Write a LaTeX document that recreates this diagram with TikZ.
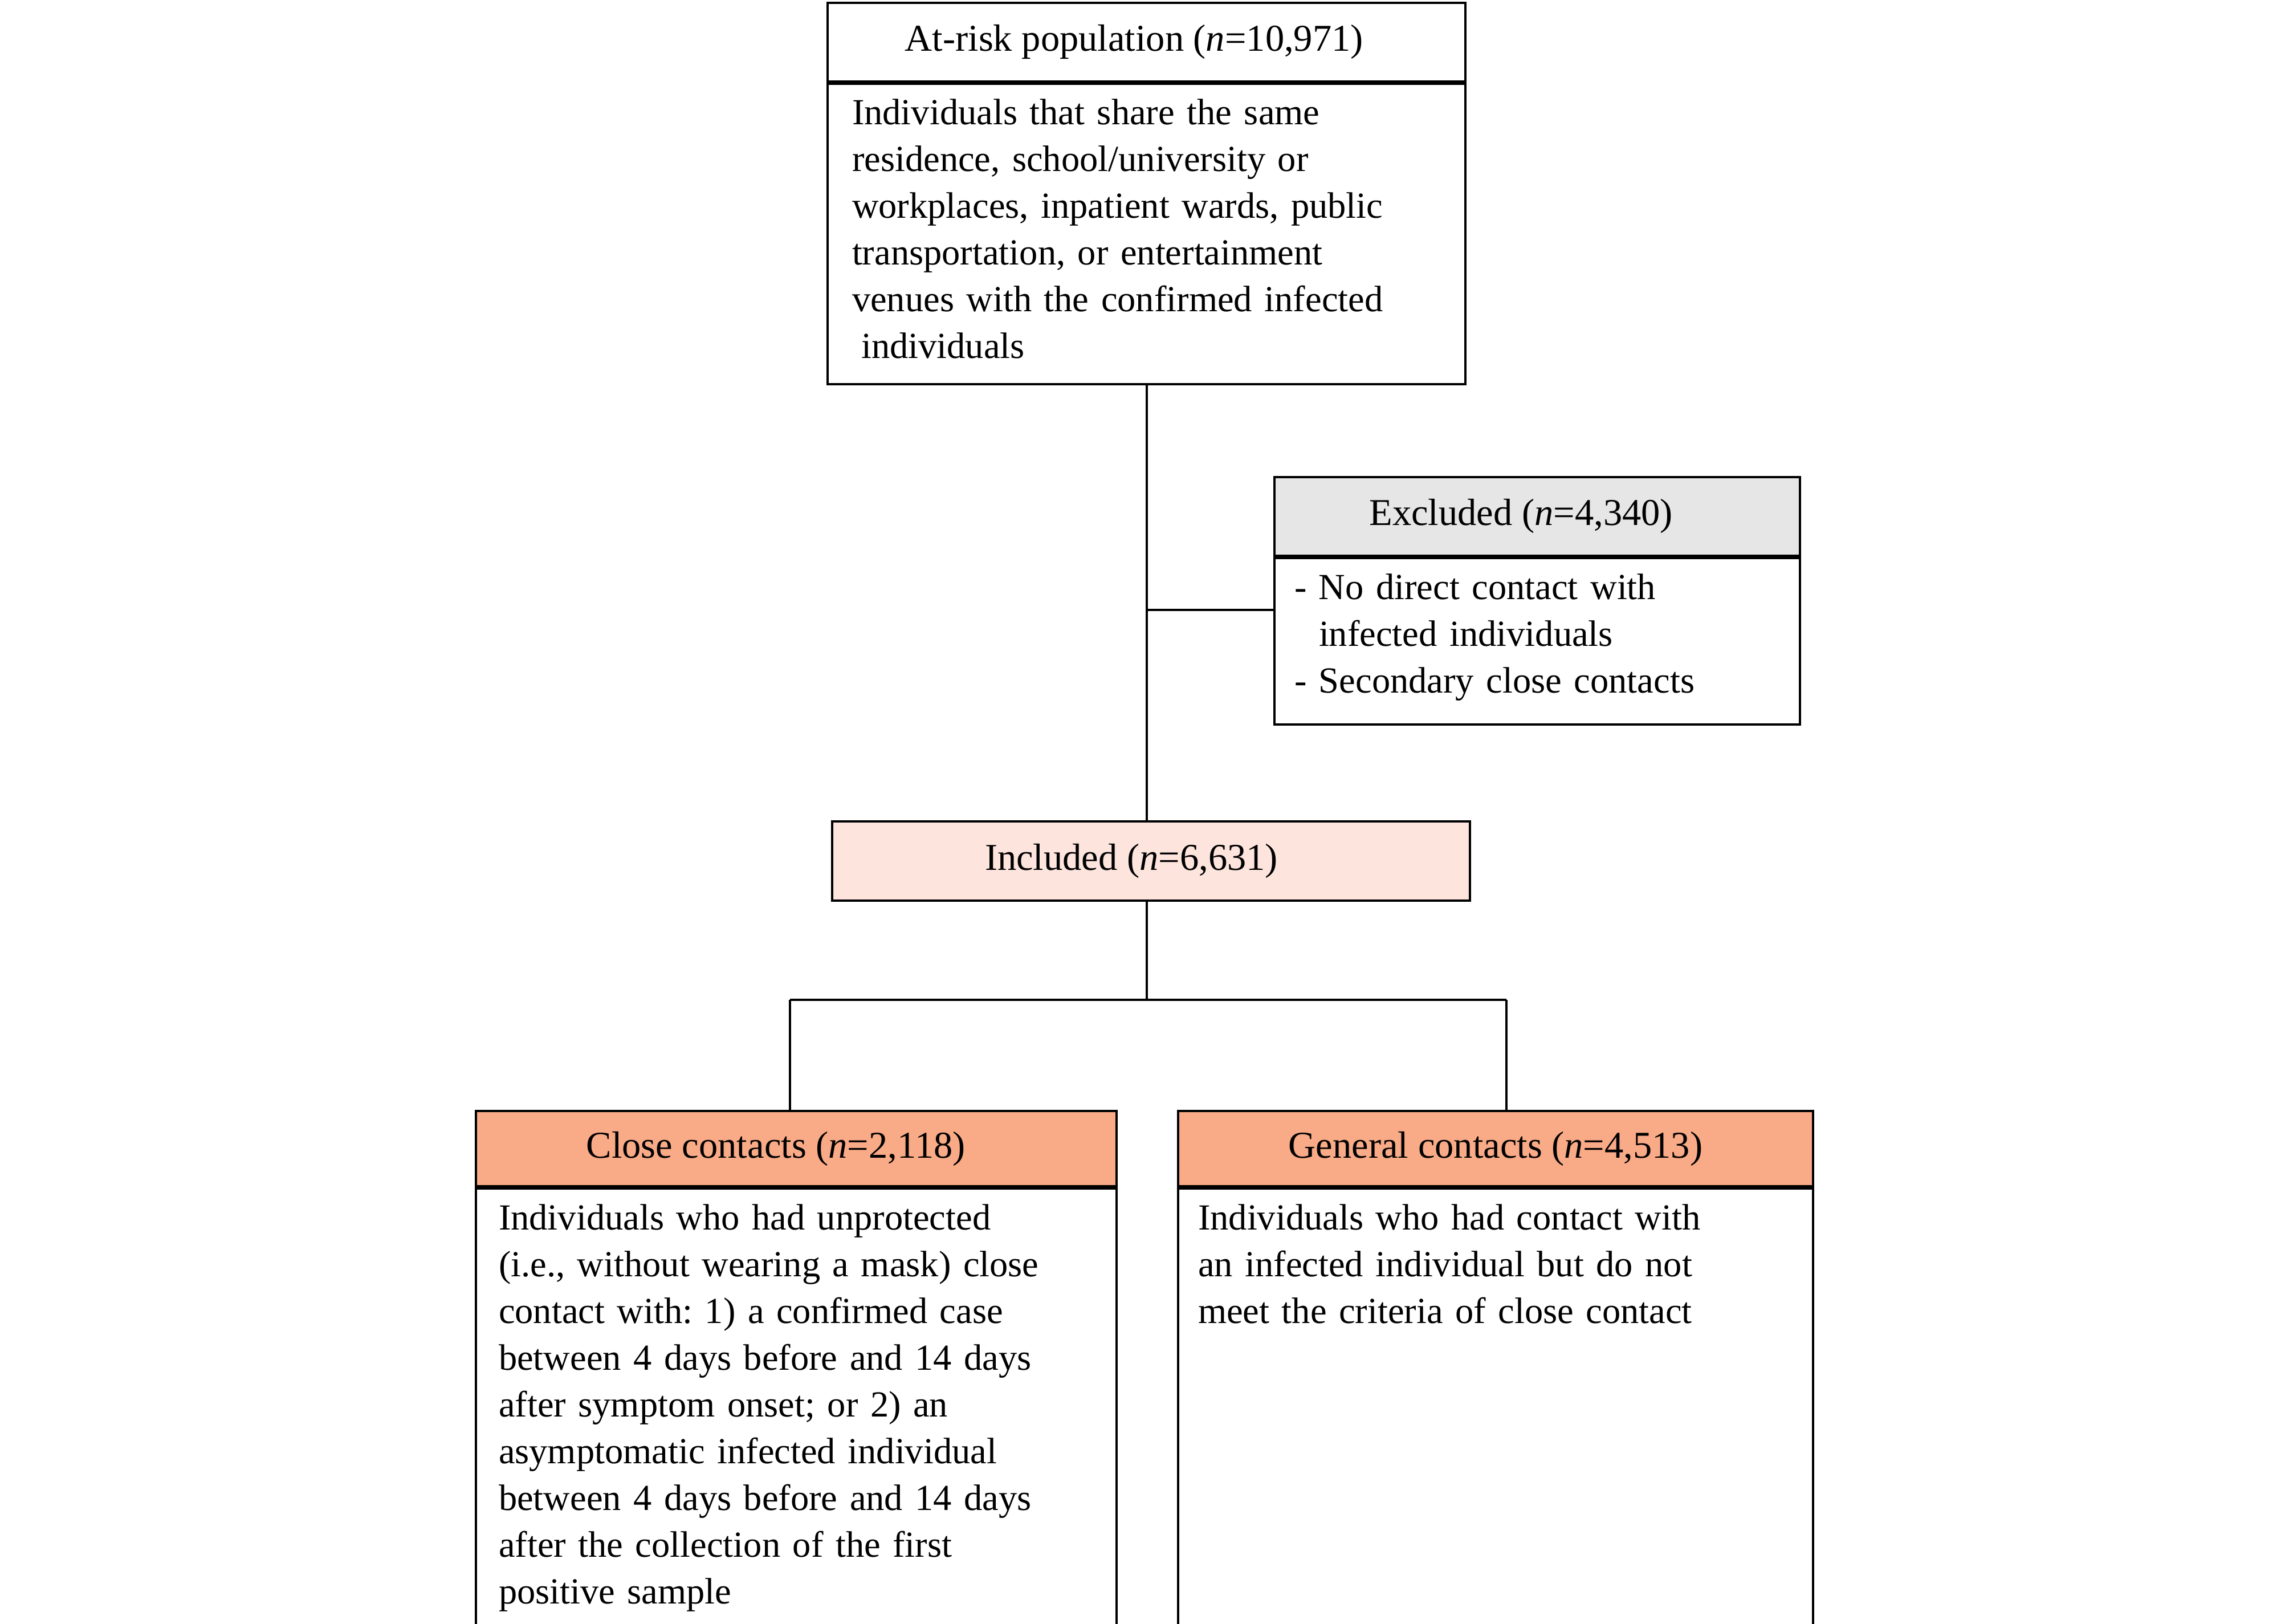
\documentclass[tikz,border=0pt]{standalone}
\usepackage{fontspec}
\setmainfont{Liberation Serif}
\usetikzlibrary{positioning}
\definecolor{exgray}{HTML}{E6E6E6}
\definecolor{incpink}{HTML}{FDE4DD}
\definecolor{salmon}{HTML}{F9AA86}
\tikzset{
  head/.style={draw, line width=.8pt, minimum height=27.6pt, inner sep=0pt},
  body/.style={draw, line width=.8pt, inner sep=0pt},
  desc/.style={text width=215pt, align=left, inner sep=0pt, anchor=base west, font=\fontsize{12.9}{16.4}\selectfont},
  link/.style={line width=.8pt}
}
\frenchspacing
\begin{document}
\begin{tikzpicture}[x=1pt,y=1pt,font=\fontsize{13.3}{16.4}\selectfont]
\useasboundingbox (0,0) rectangle (803.2,-569.8);

\node [head, minimum width=223.8pt, anchor=north] (risk) at (402.3,-.6) {At-risk population (\textit{n}=10,971)\hspace*{8.7pt}};
\node [body, minimum width=223.8pt, minimum height=105.4pt, below=0pt of risk] (riskbox) {};
\node [desc] (risktext) at ([shift={(8.8,-14.8)}]riskbox.north west)
  {Individuals that share the same\\ residence, school/university or\\ workplaces, inpatient wards, public\\
   transportation, or entertainment\\ venues with the confirmed infected\\ \hspace{.25em}individuals};

\node [head, fill=exgray, minimum width=184.4pt, anchor=north] (ex) at (539.4,-167) {Excluded (\textit{n}=4,340)\hspace*{11.3pt}};
\node [body, minimum width=184.4pt, minimum height=58.4pt, below=0pt of ex] (exbox) {};
\node [desc] (extext) at ([shift={(7.2,-14.9)}]exbox.north west)
  {- No direct contact with\\ \hphantom{-}\ infected individuals\\ - Secondary close contacts};

\node [head, fill=incpink, minimum width=223.8pt, minimum height=27.8pt, anchor=north] (inc) at (403.9,-287.8) {Included (\textit{n}=6,631)\hspace*{13.8pt}};

\node [head, fill=salmon, minimum width=224.8pt, minimum height=26.4pt, anchor=north] (close) at (279.4,-389.4) {Close contacts (\textit{n}=2,118)\hspace*{14.3pt}};
\node [body, minimum width=224.8pt, minimum height=153.6pt, below=0pt of close] (closebox) {};
\node [desc] (closetext) at ([shift={(8.2,-14.8)}]closebox.north west)
  {Individuals who had unprotected\\ (i.e., without wearing a mask) close\\ contact with: 1) a confirmed case\\
   between 4 days before and 14 days\\ after symptom onset; or 2) an\\ asymptomatic infected individual\\
   between 4 days before and 14 days\\ after the collection of the first\\ positive sample};

\node [head, fill=salmon, minimum width=222.8pt, minimum height=26.4pt, anchor=north] (general) at (524.8,-389.4) {General contacts (\textit{n}=4,513)};
\node [body, minimum width=222.8pt, minimum height=153.6pt, below=0pt of general] (generalbox) {};
\node [desc] (generaltext) at ([shift={(7.2,-14.8)}]generalbox.north west)
  {Individuals who had contact with\\ an infected individual but do not\\ meet the criteria of close contact};

\draw [link] (riskbox.south) -- (riskbox.south |- inc.north);
\coordinate (exjoin) at (402.3,-214);
\draw [link] (exjoin) -- (exjoin -| exbox.west);

\coordinate (lsplit) at (277.2,-350.8);
\coordinate (rsplit) at (528.6,-350.8);
\draw [link] (riskbox.south |- inc.south) -- (riskbox.south |- lsplit);
\draw [link] (lsplit) -- (rsplit);
\draw [link] (lsplit) -- (lsplit |- close.north);
\draw [link] (rsplit) -- (rsplit |- general.north);
\end{tikzpicture}
\end{document}
